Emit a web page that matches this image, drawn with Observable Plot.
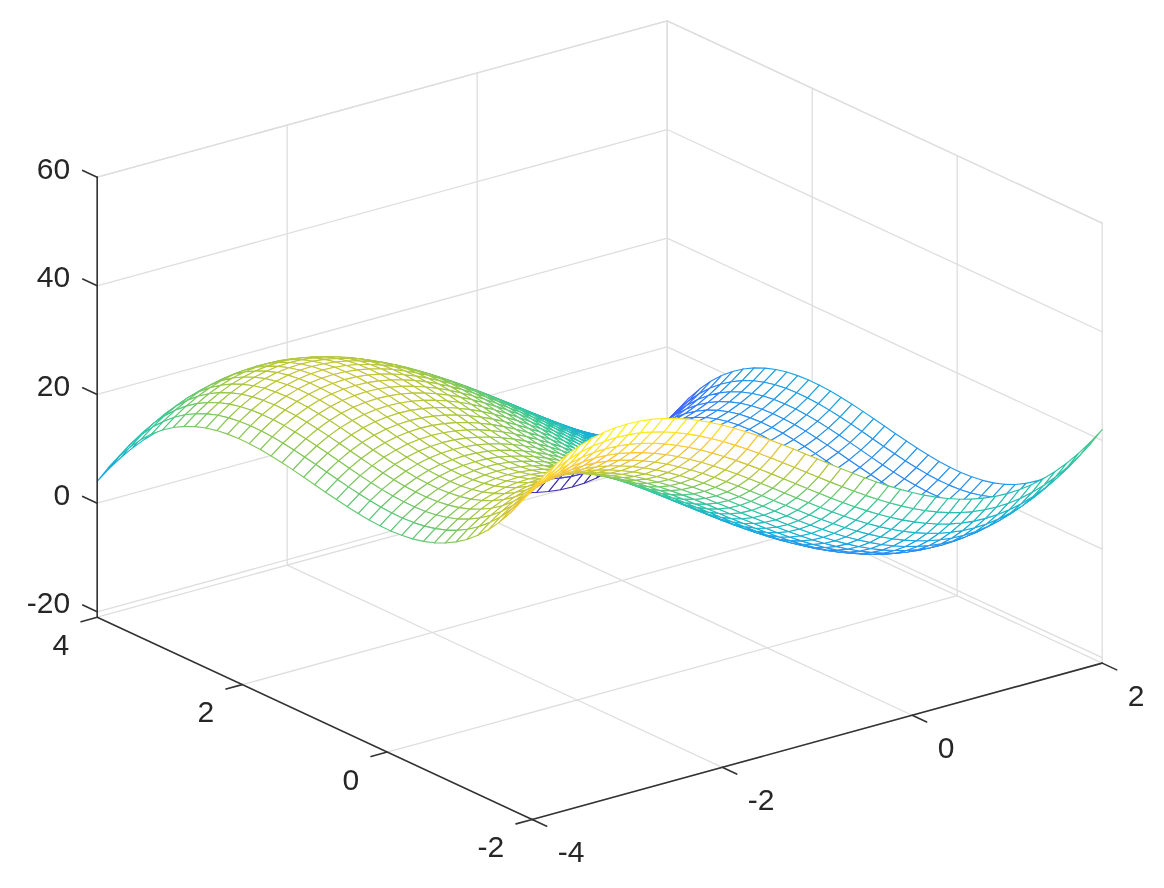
<!DOCTYPE html>
<html>
<head>
<meta charset="utf-8">
<style>html,body{margin:0;padding:0;background:#fff}svg{display:block}</style>
<script src="https://cdn.jsdelivr.net/npm/d3@7"></script>
<script src="https://cdn.jsdelivr.net/npm/@observablehq/plot@0.6"></script>
</head>
<body>
<div id="chart"></div>
<script>
// Mesh positions along each horizontal axis
const xValues = [-4,-3.875,-3.75,-3.625,-3.5,-3.375,-3.25,-3.125,-3,-2.875,-2.75,-2.625,-2.5,-2.375,-2.25,-2.125,-2,-1.875,-1.75,-1.625,-1.5,-1.375,-1.25,-1.125,-1,-0.875,-0.75,-0.625,-0.5,-0.375,-0.25,-0.125,0,0.125,0.25,0.375,0.5,0.625,0.75,0.875,1,1.125,1.25,1.375,1.5,1.625,1.75,1.875,2];
const yValues = [-2,-1.85,-1.7,-1.55,-1.4,-1.25,-1.1,-0.95,-0.8,-0.65,-0.5,-0.35,-0.2,-0.05,0.1,0.25,0.4,0.55,0.7,0.85,1,1.15,1.3,1.45,1.6,1.75,1.9,2.05,2.2,2.35,2.5,2.65,2.8,2.95,3.1,3.25,3.4,3.55,3.7,3.85,4];
// The surface height splits into one profile along x plus one profile along y
const zProfileX = [20,21.74,23.20,24.41,25.38,26.10,26.61,26.90,27,26.91,26.64,26.21,25.63,24.90,24.05,23.08,22,20.83,19.58,18.26,16.88,15.45,13.98,12.50,11,9.50,8.02,6.55,5.13,3.74,2.42,1.17,0,-1.08,-2.05,-2.90,-3.63,-4.21,-4.64,-4.91,-5,-4.90,-4.61,-4.10,-3.38,-2.41,-1.20,0.26,2];
const zProfileY = [20,16.60,13.58,10.93,8.62,6.64,4.96,3.57,2.43,1.54,0.88,0.41,0.13,0.01,0.03,0.17,0.42,0.74,1.13,1.55,2,2.45,2.87,3.26,3.58,3.83,3.97,3.99,3.87,3.59,3.13,2.46,1.57,0.44,-0.96,-2.64,-4.62,-6.93,-9.58,-12.60,-16];
// Axes
const xTicks = [-4,-2,0,2];
const yTicks = [-2,0,2,4];
const zTicks = [-20,0,20,40,60];
const xLimits = [-4,2];
const yLimits = [-2,4];
const zLimits = [-21,60];
// Colour map (parula), spread over the surface's height range
const colorStops = ["#3e26a8","#4752f4","#2d87f7","#12b1d6","#37c897","#abc739","#fec338","#f9fb14"];
const colorExtent = [-21,47];
const colorDomain = d3.quantize(d3.interpolateNumber(...colorExtent), colorStops.length);

// Default 3-D view expressed as screen vectors per data unit
const view = {x0:599.2, y0:525.6, xx:95, xy:-72.5, yx:-26.05, yy:-33.7, yz:-5.433};
const sx = (x,y) => view.x0 + view.xx*(x+1) + view.xy*(y-1);
const sy = (x,y,z) => view.y0 + view.yx*(x+1) + view.yy*(y-1) + view.yz*z;

// Surface quads, far corner first so nearer faces cover what lies behind them
const quads = [];
let q = 0;
for (let i = xValues.length-2; i >= 0; i--) {
  for (let j = yValues.length-2; j >= 0; j--) {
    const corners = [[i,j],[i+1,j],[i+1,j+1],[i,j+1]];
    const mean = d3.mean(corners, ([a,b]) => zProfileX[a]+zProfileY[b]);
    for (const [a,b] of corners) {
      quads.push({q, c:mean, px:sx(xValues[a],yValues[b]), py:sy(xValues[a],yValues[b],zProfileX[a]+zProfileY[b])});
    }
    q++;
  }
}

// Line segments given in data space
const seg = (rows,id,a,b) => {
  rows.push({id,px:sx(a[0],a[1]),py:sy(a[0],a[1],a[2])});
  rows.push({id,px:sx(b[0],b[1]),py:sy(b[0],b[1],b[2])});
};
const [x0,x1] = xLimits, [y0,y1] = yLimits, [z0,z1] = zLimits;
const gridRows = [];
let g = 0;
for (const x of xTicks) {
  seg(gridRows,g++,[x,y0,z0],[x,y1,z0]);
  seg(gridRows,g++,[x,y1,z0],[x,y1,z1]);
}
for (const y of yTicks) {
  seg(gridRows,g++,[x0,y,z0],[x1,y,z0]);
  seg(gridRows,g++,[x1,y,z0],[x1,y,z1]);
}
for (const z of zTicks) {
  seg(gridRows,g++,[x0,y1,z],[x1,y1,z]);
  seg(gridRows,g++,[x1,y1,z],[x1,y0,z]);
}
seg(gridRows,g++,[x0,y1,z1],[x1,y1,z1]);
seg(gridRows,g++,[x1,y1,z1],[x1,y0,z1]);

const axisRows = [];
let k = 0;
seg(axisRows,k++,[x0,y0,z0],[x1,y0,z0]);
seg(axisRows,k++,[x0,y0,z0],[x0,y1,z0]);
seg(axisRows,k++,[x0,y1,z0],[x0,y1,z1]);
for (const x of xTicks) seg(axisRows,k++,[x,y0,z0],[x,y0-0.2,z0]);
for (const y of yTicks) seg(axisRows,k++,[x0,y,z0],[x0-0.17,y,z0]);
for (const z of zTicks) seg(axisRows,k++,[x0,y1,z],[x0,y1+0.2,z]);

const label = v => String(v);
const xLabels = xTicks.map(v => ({t:label(v),px:sx(v,y0),py:sy(v,y0,z0)}));
const yLabels = yTicks.map(v => ({t:label(v),px:sx(x0,v),py:sy(x0,v,z0)}));
const zLabels = zTicks.map(v => ({t:label(v),px:sx(x0,y1),py:sy(x0,y1,v)}));
const textStyle = {x:"px",y:"py",text:"t",fontSize:30,fill:"#262626",fontFamily:"'Liberation Sans',Arial,sans-serif"};

const chart = Plot.plot({
  width:1164, height:888,
  marginTop:0, marginRight:0, marginBottom:0, marginLeft:0,
  x:{domain:[0,1164], range:[0,1164], axis:null},
  y:{domain:[0,888], range:[0,888], axis:null},
  color:{type:"linear", domain:colorDomain, range:colorStops},
  style:{background:"#fff", filter:"blur(0.4px)"},
  marks:[
    Plot.line(gridRows,{x:"px",y:"py",z:"id",stroke:"#dedede",strokeWidth:1.3}),
    Plot.line(quads,{x:"px",y:"py",z:"q",stroke:d=>d.c,fill:"#fff",curve:"linear-closed",strokeWidth:1.1}),
    Plot.line(axisRows,{x:"px",y:"py",z:"id",stroke:"#333333",strokeWidth:1.6}),
    Plot.text(xLabels,{...textStyle,textAnchor:"start",dx:25.5,dy:33}),
    Plot.text(yLabels,{...textStyle,textAnchor:"end",dx:-28,dy:28}),
    Plot.text(zLabels,{...textStyle,textAnchor:"end",dx:-27,dy:-8})
  ]
});
document.getElementById("chart").append(chart);
</script>
</body>
</html>
